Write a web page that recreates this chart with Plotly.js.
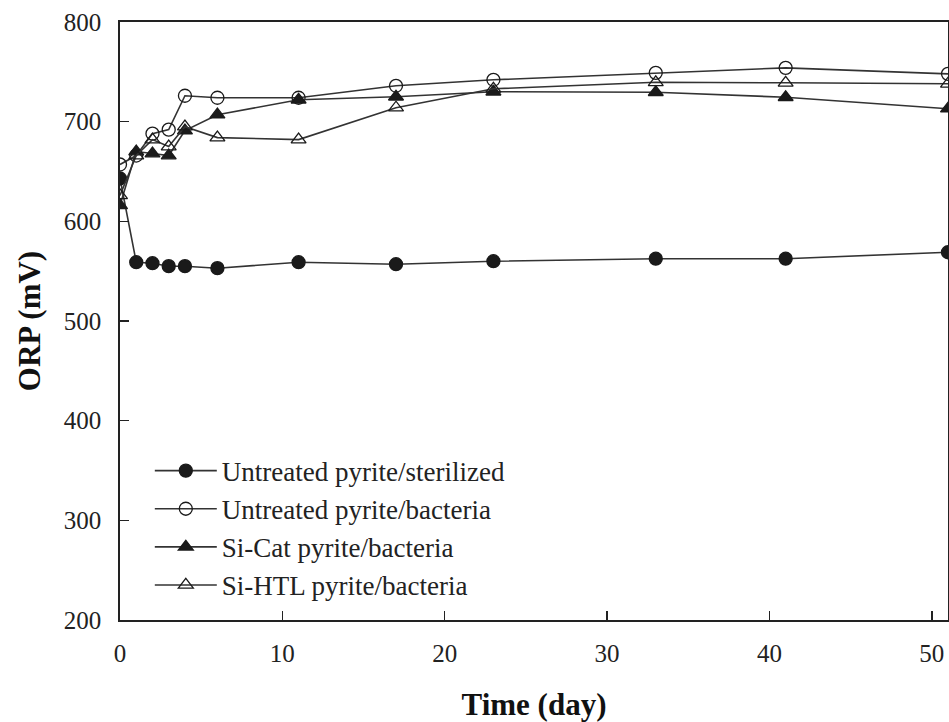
<!DOCTYPE html>
<html>
<head>
<meta charset="utf-8">
<script src="https://cdn.plot.ly/plotly-3.0.1.min.js"></script>
<style>html,body{margin:0;padding:0;background:#fff;}#chart{width:949px;height:722px;}</style>
</head>
<body>
<div id="chart"></div>
<script>
var days = [0, 1, 2, 3, 4, 6, 11, 17, 23, 33, 41, 51];
var sterilized = [643, 559, 558, 555, 555, 553, 559, 557, 560, 562.5, 562.5, 569];
var untreatedBacteria = [657, 666, 688, 692, 726, 724, 724, 736, 742, 749, 754, 748];
var siCatBacteria = [616, 670, 668, 666, 691, 707, 722, 725, 730, 729.5, 724.5, 713];
var siHtlBacteria = [626, 666, 682, 675, 695, 684, 682, 714, 733, 739.5, 739, 738];
var seriesNames = ["Untreated pyrite/sterilized", "Untreated pyrite/bacteria", "Si-Cat pyrite/bacteria", "Si-HTL pyrite/bacteria"];
var xTicks = [0, 10, 20, 30, 40, 50];

var lineColor = "#333333";
var markColor = "#1a1a1a";
function mk(y, name, symbol) {
  return {
    x: days, y: y, name: name, type: "scatter", mode: "lines+markers",
    line: {color: lineColor, width: 1.6},
    marker: {symbol: symbol, size: 13, color: markColor, line: {color: markColor, width: 1.3}}
  };
}
var data = [
  mk(sterilized, seriesNames[0], "circle"),
  mk(untreatedBacteria, seriesNames[1], "circle-open"),
  mk(siCatBacteria, seriesNames[2], "triangle-up"),
  mk(siHtlBacteria, seriesNames[3], "triangle-up-open")
];
var fontFam = "Liberation Serif";
var layout = {
  width: 949, height: 722,
  margin: {l: 120, r: 1, t: 22, b: 102},
  paper_bgcolor: "#fff", plot_bgcolor: "#fff",
  showlegend: true,
  font: {family: fontFam, color: "#222", size: 25},
  xaxis: {
    range: [0, 51], tickvals: xTicks, ticktext: xTicks.map(String),
    showgrid: false, zeroline: false,
    showline: true, linecolor: "#222", linewidth: 1.8, mirror: true,
    ticks: "inside", ticklen: 9, tickwidth: 1.5, tickcolor: "#222",
    tickfont: {family: fontFam, size: 25, color: "#222"},
    ticklabelstandoff: 10,
    title: {text: "<b>Time (day)</b>", font: {family: fontFam, size: 31, color: "#111"}, standoff: 28}
  },
  yaxis: {
    range: [200, 800], dtick: 100, tick0: 200,
    showgrid: false, zeroline: false,
    showline: true, linecolor: "#222", linewidth: 1.8, mirror: true,
    ticks: "inside", ticklen: 9, tickwidth: 1.5, tickcolor: "#222",
    tickfont: {family: fontFam, size: 25, color: "#222"},
    ticklabelstandoff: 12,
    title: {text: "<b>ORP (mV)</b>", font: {family: fontFam, size: 31, color: "#111"}, standoff: 14}
  },
  legend: {
    x: 0.036, y: 0.29, xanchor: "left", yanchor: "top",
    bgcolor: "rgba(0,0,0,0)", borderwidth: 0,
    font: {family: fontFam, size: 27, color: "#222"},
    tracegroupgap: 0, itemwidth: 62
  }
};
Plotly.newPlot("chart", data, layout, {displayModeBar: false, staticPlot: true});
</script>
</body>
</html>
